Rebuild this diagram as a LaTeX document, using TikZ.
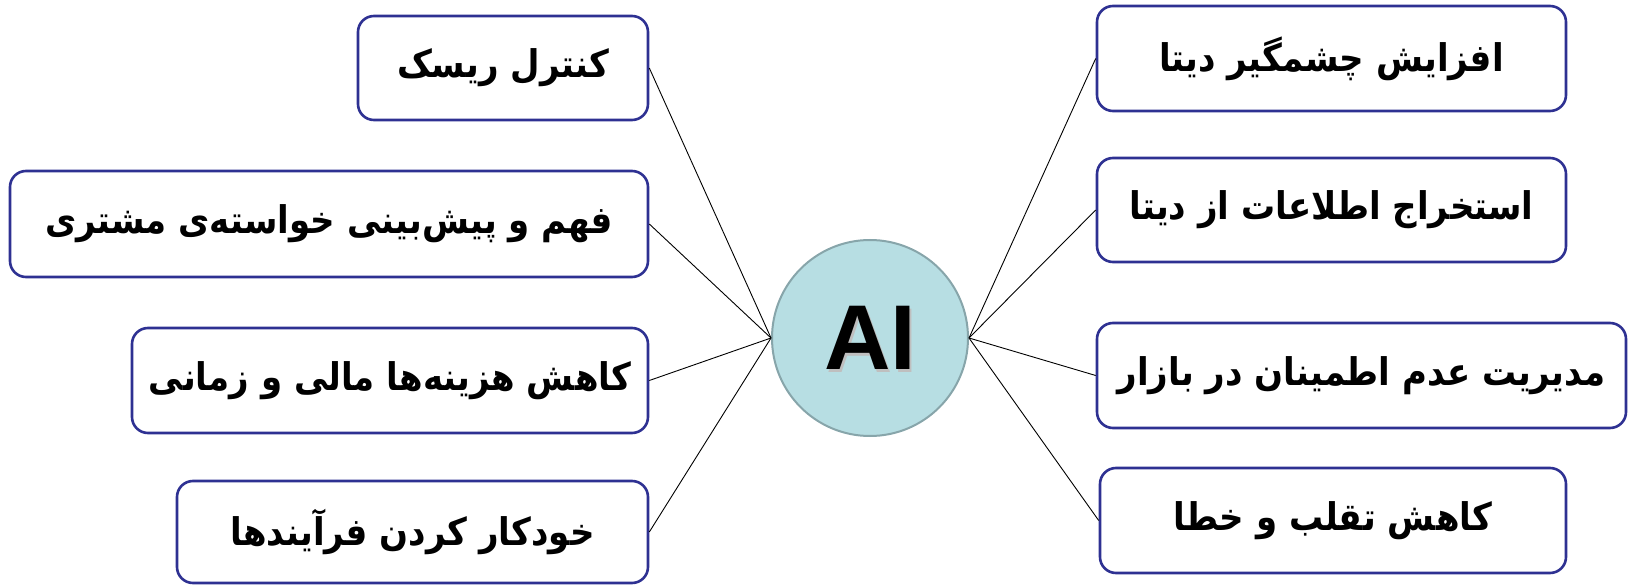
\documentclass[tikz,border=0pt]{standalone}
\usepackage{fontspec}
\setmainfont{Liberation Sans}
\newfontfamily\fa[Script=Arabic]{DejaVu Sans}
\TeXXeTstate=1
\definecolor{boxblue}{RGB}{46,49,146}
\definecolor{circfill}{RGB}{183,222,227}
\definecolor{circline}{RGB}{135,165,170}
\tikzset{
  item/.style={draw=boxblue, line width=2.6pt, rounded corners=16pt, fill=white,
    inner sep=0pt, font=\fa\bfseries\fontsize{34}{40}\selectfont},
  link/.style={draw=black, line width=0.9pt},
}
\newcommand{\rtl}[1]{\scalebox{1}[1.12]{\beginR #1\endR}}
\begin{document}
\begin{tikzpicture}[x=1pt,y=-1pt]
\useasboundingbox (0,0) rectangle (1628,585);
\node[circle, fill=circfill, draw=circline, line width=2pt, minimum size=196pt, inner sep=0pt] (ai) at (870,338) {};
\node[font=\bfseries\fontsize{92}{100}\selectfont, text=black!25] at (872.5,340.5) {AI};
\node[font=\bfseries\fontsize{92}{100}\selectfont] (ait) at (870,338) {AI};

\node[item, minimum width=290pt, minimum height=104pt] (A) at (503,68) {\rtl{کنترل ریسک}};
\node[item, minimum width=638pt, minimum height=106pt] (B) at (329,224) {\rtl{فهم و پیش^^^^200cبینی خواسته^^^^200cی مشتری}};
\node[item, minimum width=516pt, minimum height=105pt] (C) at (390,380.5) {\rtl{کاهش هزینه^^^^200cها مالی و زمانی}};
\node[item, minimum width=471pt, minimum height=102pt] (D) at (412.5,532) {\rtl{خودکار کردن فرآیندها}};

\node[item, minimum width=469pt, minimum height=105pt] (E) at (1331.5,58.5) {\rtl{افزایش چشمگیر دیتا}};
\node[item, minimum width=469pt, minimum height=104pt] (F) at (1331.5,210) {\rtl{استخراج اطلاعات از دیتا}};
\node[item, minimum width=529pt, minimum height=105pt] (G) at (1361.5,375.5) {\rtl{مدیریت عدم اطمینان در بازار}};
\node[item, minimum width=466pt, minimum height=105pt] (H) at (1333,520.5) {\rtl{کاهش تقلب و خطا}};

\foreach \n in {A,B,C,D} \draw[link] (\n.east) -- (ai.west);
\foreach \n in {E,F,G,H} \draw[link] (\n.west) -- (ai.east);
\end{tikzpicture}
\end{document}
